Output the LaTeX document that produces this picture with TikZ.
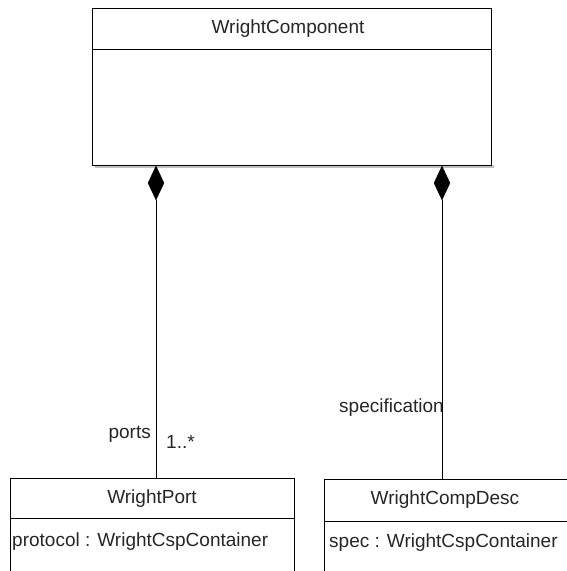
\documentclass[tikz,border=0pt]{standalone}
\usepackage{fontspec}
\setmainfont{Liberation Sans}
\usetikzlibrary{shapes.geometric}
\begin{document}
\begin{tikzpicture}[x=1pt,y=-1pt,
  boxline/.style={draw=black,line width=0.9pt},
  conn/.style={draw=black,line width=0.7pt},
  lbl/.style={font=\fontsize{19}{22}\selectfont,inner sep=0pt,text=black!85},
  dia/.style={diamond,fill=black,draw=black,inner sep=0pt,minimum width=16pt,minimum height=34pt}]
\useasboundingbox (0,0) rectangle (566,571);
% shadow of top box
\fill[black!25] (95,165) rectangle (494,168);
% Top class
\draw[boxline,fill=white] (92,8) rectangle (491,165);
\draw[boxline] (92,49) -- (491,49);
\node[lbl] (wc) at (288,29) {WrightComponent};
% Bottom-left class
\draw[boxline] (10,478) rectangle (294,580);
\draw[boxline] (10,518) -- (294,518);
\node[lbl] (wp) at (152,499) {WrightPort};
\node[lbl,anchor=west] (wpattr) at (12,542) {protocol : WrightCspContainer};
% Bottom-right class
\draw[boxline] (324,479) rectangle (580,580);
\draw[boxline] (324,521) -- (580,521);
\node[lbl] (wcd) at (445,500) {WrightCompDesc};
\node[lbl,anchor=west] (wcdattr) at (329,543) {spec : WrightCspContainer};
% Anchors on boxes
\coordinate (wpTop) at (156,478);
\coordinate (wcdTop) at (442,479);
% Diamonds
\node[dia] (d1) at (156,183) {};
\node[dia] (d2) at (442,183) {};
% Connectors
\draw[conn] (d1.south) -- (wpTop);
\draw[conn] (d2.south) -- (wcdTop);
% Labels
\node[lbl,anchor=east] (lports) at (151,434) {ports};
\node[lbl,anchor=west] (lmult) at (166,442) {1..*};
\node[lbl,anchor=east] (lspec) at (444,408) {specification};
\end{tikzpicture}
\end{document}
